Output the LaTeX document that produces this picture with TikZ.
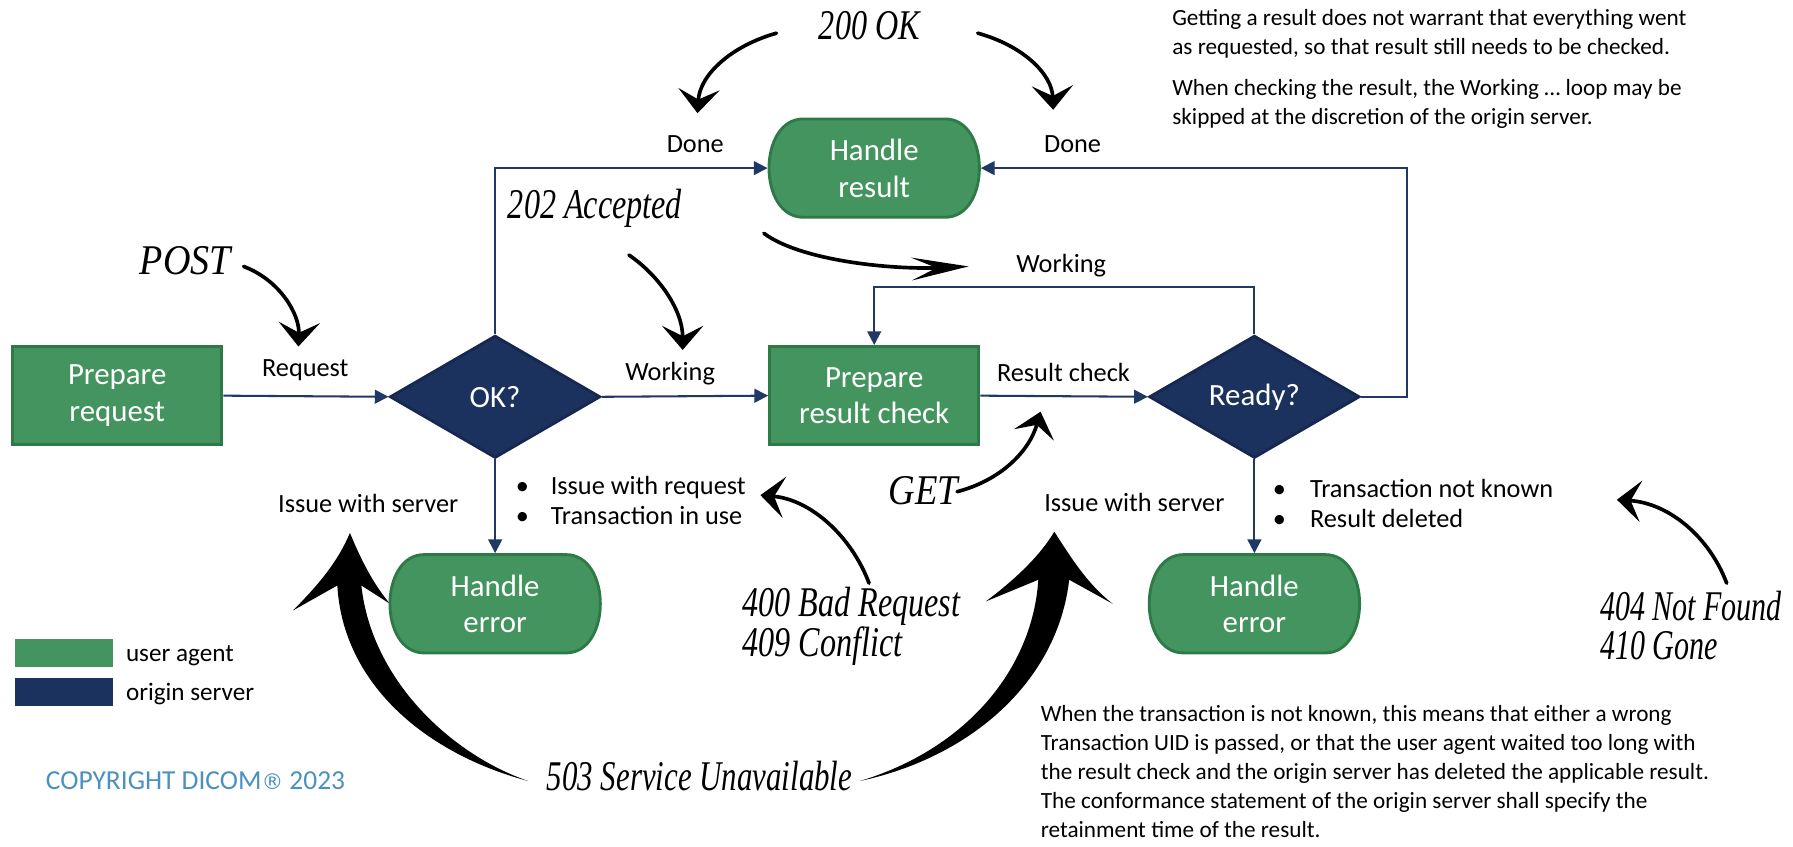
\documentclass[tikz,border=0pt]{standalone}
\usepackage{fontspec}
\usepackage{graphicx}
\setmainfont{Carlito}
\newfontfamily\handfont{Liberation Serif}
\newfontfamily\symfont{DejaVu Sans}
\usetikzlibrary{arrows.meta,shapes.geometric}
\definecolor{ua}{HTML}{43945E}
\definecolor{uaborder}{HTML}{2E7A46}
\definecolor{os}{HTML}{1C325E}
\definecolor{osborder}{HTML}{162850}
\definecolor{connc}{HTML}{1F3864}
\definecolor{copyc}{HTML}{4B91C0}
\newcommand\hw[2][0.76]{\scalebox{#1}[1]{\handfont\itshape #2}}
% terminator: elliptical-ended box drawn behind a named text node
\newcommand\termnode[4]{%
  \filldraw[draw=uaborder, fill=ua, line width=2.5pt]
    (#2-62,#3-43) -- (#2+62,#3-43)
    .. controls (#2+102,#3-43) and (#2+102,#3+43) .. (#2+62,#3+43)
    -- (#2-62,#3+43)
    .. controls (#2-102,#3+43) and (#2-102,#3-43) .. (#2-62,#3-43) -- cycle;
  \node[termtxt] (#1) at (#2,#3) {#4};}
\begin{document}
\begin{tikzpicture}[x=1pt,y=-1pt,
  uabox/.style={draw=uaborder, line width=2.5pt, fill=ua, text=white, minimum width=183pt, minimum height=86pt, font=\fontsize{27}{32}\selectfont, align=center, inner sep=0pt},
  termtxt/.style={text=white, minimum width=184pt, minimum height=86pt, font=\fontsize{27}{32}\selectfont, align=center, inner sep=0pt, outer sep=1.25pt},
  dec/.style={diamond, draw=osborder, line width=2.5pt, fill=os, text=white, minimum width=184pt, minimum height=107pt, font=\fontsize{27}{32}\selectfont, inner sep=0pt},
  conn/.style={draw=connc, line width=1.8pt, -{Triangle[length=12pt,width=12pt]}},
  lab/.style={font=\fontsize{23}{27}\selectfont, inner sep=0pt},
  note/.style={font=\fontsize{20.3}{25.2}\selectfont, align=left, inner sep=0pt, anchor=north west},
  hand/.style={inner sep=0pt, anchor=west, align=left, font=\fontsize{37}{29}\selectfont},
  brush/.style={line width=3.2pt, line cap=round, -{Stealth[length=21pt,width=36pt,inset=9pt]}},
]
\useasboundingbox (0,0) rectangle (1568,740);

% ---- big 503 brush arrows (drawn first, behind the boxes)
\fill[black] (462,683) .. controls (375,660) and (300,600) .. (295,512)
  -- (256,534) .. controls (280,510) and (296,490) .. (306,466)
  .. controls (316,490) and (326,510) .. (341,528)
  -- (316,512) .. controls (325,595) and (395,660) .. (462,683) -- cycle;
\fill[black] (752,683) .. controls (845,655) and (903,585) .. (908,507)
  -- (862,526) .. controls (890,505) and (910,485) .. (922,465)
  .. controls (935,485) and (950,510) .. (973,528)
  -- (935,507) .. controls (925,595) and (850,662) .. (752,683) -- cycle;

% ---- smaller brush arrows
\draw[brush] (679,29) .. controls (640,40) and (612,65) .. (610,99);
\draw[brush] (855,29) .. controls (895,40) and (920,65) .. (921,96);
\draw[brush] (213,233) .. controls (245,245) and (262,275) .. (261,303);
\draw[brush] (550,223) .. controls (575,240) and (597,270) .. (597,306);
\draw[line width=3.2pt, line cap=round, -{Stealth[length=50pt,width=20pt,inset=22pt]}] (668,204) .. controls (700,228) and (780,236) .. (847,233);
\draw[brush] (837,430) .. controls (875,420) and (900,395) .. (910,360);
\draw[brush] (760,510) .. controls (745,470) and (710,437) .. (665,433);
\draw[brush] (1510,510) .. controls (1495,470) and (1460,440) .. (1414,437);

% ---- main nodes
\node[uabox] (prep) at (102.5,346) {Prepare\\request};
\node[dec] (ok) at (433,347) {OK?};
\node[uabox] (prc) at (764.5,346) {Prepare\\result check};
\node[dec] (ready) at (1097,347) {Ready?};
\termnode{hres}{764.5}{147}{Handle\\result}
\termnode{herr1}{433}{528}{Handle\\error}
\termnode{herr2}{1097}{528}{Handle\\error}

% ---- connectors
\draw[conn] (prep.east) -- (ok.west);
\draw[conn] (ok.east) -- (prc.west);
\draw[conn] (prc.east) -- (ready.west);
\draw[conn] (ok.north) |- (hres.west);
\draw[conn] (ready.east) -- ++(40,0) |- (hres.east);
\draw[conn] (ready.north) -- ++(0,-41) -| (prc.north);
\draw[conn] (ok.south) -- (herr1.north);
\draw[conn] (ready.south) -- (herr2.north);

% ---- connector labels
\node[lab] (lreq) at (267,324) {Request};
\node[lab] (lwork1) at (586,327) {Working};
\node[lab] (lrc) at (930,326) {Result check};
\node[lab] (lwork2) at (928,232) {Working};
\node[lab] (ldone1) at (608,126) {Done};
\node[lab] (ldone2) at (938,126) {Done};
\node[lab] (liss1) at (322,440) {Issue with server};
\node[lab] (liss2) at (992,439) {Issue with server};
\node[lab, anchor=west, align=left] (lb1) at (451,440)
  {\begin{tabular}{@{}l@{\hspace{19pt}}l@{}}\textbullet & Issue with request\\[-1pt] \textbullet & Transaction in use\end{tabular}};
\node[lab, anchor=west, align=left] (lb2) at (1113,443)
  {\begin{tabular}{@{}l@{\hspace{21pt}}l@{}}\textbullet & Transaction not known\\[-1pt] \textbullet & Result deleted\end{tabular}};

% ---- handwritten status labels
\node[hand] (h200) at (716,22) {\hw{200 OK}};
\node[hand] (h202) at (444,182) {\hw{202 Accepted}};
\node[hand] (hpost) at (122,228) {\hw[0.9]{POST}};
\node[hand] (hget) at (777,429) {\hw[0.87]{GET}};
\node[hand] (h400) at (649,530) {\hw{400 Bad Request}};
\node[hand] (h409) at (649,565) {\hw{409 Conflict}};
\node[hand] (h404) at (1399,530) {\hw[0.71]{404 Not Found}};
\node[hand] (h410) at (1399,565) {\hw[0.71]{410 Gone}};
\node[hand] (h503) at (478,679) {\hw[0.73]{503 Service Unavailable}};

% ---- notes
\node[note] (n1) at (1025,8) {Getting a result does not warrant that everything went\\as requested, so that result still needs to be checked.};
\node[note] (n2) at (1025,69) {When checking the result, the Working \dots\ loop may be\\skipped at the discretion of the origin server.};
\node[note] (n3) at (910,617) {When the transaction is not known, this means that either a wrong\\Transaction UID is passed, or that the user agent waited too long with\\the result check and the origin server has deleted the applicable result.\\The conformance statement of the origin server shall specify the\\retainment time of the result.};

% ---- legend
\node[fill=ua, minimum width=85pt, minimum height=24pt, inner sep=0pt] (legua) at (56,571) {};
\node[fill=os, minimum width=85pt, minimum height=24pt, inner sep=0pt] (legos) at (56,605) {};
\node[font=\fontsize{22}{26}\selectfont, inner sep=0pt, anchor=west] (legual) at (110,573) {user agent};
\node[font=\fontsize{22}{26}\selectfont, inner sep=0pt, anchor=west] (legosl) at (110,607) {origin server};
\node[font=\fontsize{24}{28}\selectfont, text=copyc, anchor=west, inner sep=0pt] (copy) at (40,683) {COPYRIGHT DICOM{\symfont\fontsize{19}{24}\selectfont ®} 2023};
\end{tikzpicture}
\end{document}
